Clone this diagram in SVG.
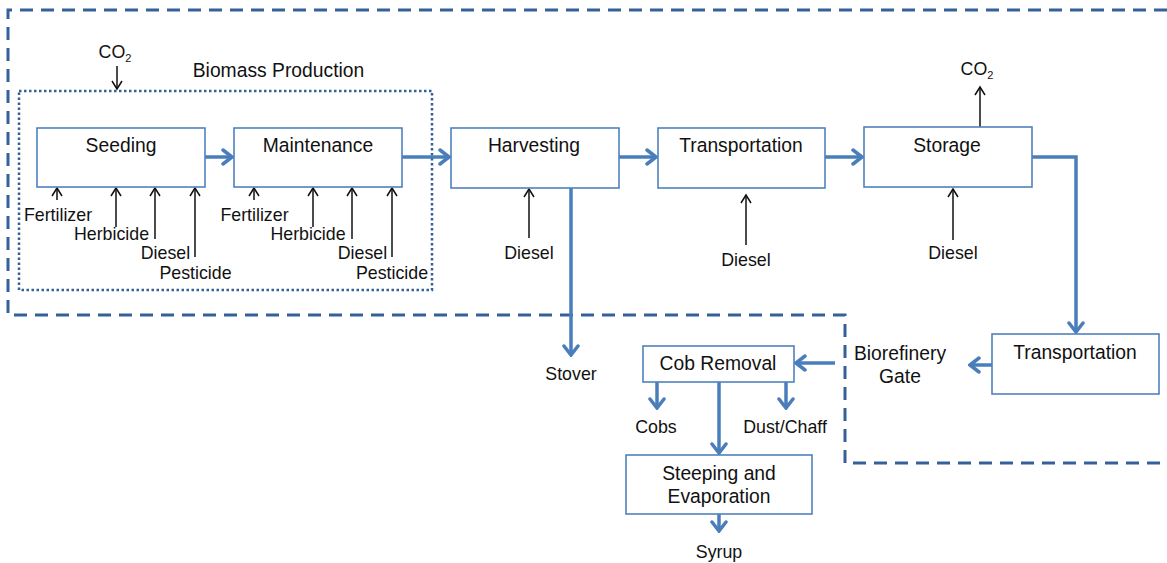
<svg xmlns="http://www.w3.org/2000/svg" width="1167" height="563" viewBox="0 0 1167 563">
<style>
.box{fill:#fff;stroke:#4f81bd;stroke-width:1.6}
.t{font-family:"Liberation Sans",Arial,sans-serif;font-size:19.3px;fill:#111;text-anchor:middle}
.l{font-family:"Liberation Sans",Arial,sans-serif;font-size:17.8px;fill:#111;text-anchor:middle}
.sub{font-size:11px}
.flow{fill:none;stroke:#4a7ebb;stroke-width:3.5;marker-end:url(#ba)}
.thin{fill:none;stroke:#111;stroke-width:1.5;marker-end:url(#ka)}
.bound{fill:none;stroke:#35609a;stroke-width:3;stroke-dasharray:13 8}
.dot{fill:none;stroke:#35609a;stroke-width:2.5;stroke-dasharray:2.5 2.5}
</style>
<defs>
<marker id="ba" markerUnits="userSpaceOnUse" viewBox="-12 -9 14 18" refX="0" refY="0" markerWidth="14" markerHeight="18" orient="auto">
<path d="M-9,-7 L0,0 L-9,7" fill="none" stroke="#4a7ebb" stroke-width="3.5" stroke-linecap="round" stroke-linejoin="miter"/>
</marker>
<marker id="ka" markerUnits="userSpaceOnUse" viewBox="-10 -7 12 14" refX="0" refY="0" markerWidth="12" markerHeight="14" orient="auto">
<path d="M-8,-5 L0,0 L-8,5" fill="none" stroke="#111" stroke-width="1.5"/>
</marker>
</defs>
<rect width="1167" height="563" fill="#fff"/>
<g id="boundaries">
<path class="bound" d="M1167,10 L8,10 L8,315 L845,315 L845,463 L1167,463"/>
<rect class="dot" x="19" y="91" width="413" height="199"/>
<text class="t" x="278.5" y="77">Biomass Production</text>
</g>
<g id="connectors">
<line class="flow" x1="205" y1="157" x2="232" y2="157"/>
<line class="flow" x1="402" y1="157" x2="449" y2="157"/>
<line class="flow" x1="619" y1="157" x2="656" y2="157"/>
<line class="flow" x1="825" y1="157" x2="862" y2="157"/>
<path class="flow" d="M1032,157 L1076,157 L1076,332"/>
<line class="flow" x1="992" y1="365" x2="970" y2="365"/>
<line class="flow" x1="835" y1="363" x2="796" y2="363"/>
<line class="flow" x1="571" y1="188" x2="571" y2="355"/>
<line class="flow" x1="657" y1="382" x2="657" y2="408"/>
<line class="flow" x1="786" y1="382" x2="786" y2="408"/>
<line class="flow" x1="719" y1="382" x2="719" y2="453"/>
<line class="flow" x1="719" y1="514" x2="719" y2="531"/>
<line class="thin" x1="117" y1="66" x2="117" y2="89"/>
<line class="thin" x1="57" y1="200" x2="57" y2="188"/>
<line class="thin" x1="116" y1="227" x2="116" y2="188"/>
<line class="thin" x1="155" y1="239" x2="155" y2="188"/>
<line class="thin" x1="195" y1="257" x2="195" y2="188"/>
<line class="thin" x1="254" y1="200" x2="254" y2="188"/>
<line class="thin" x1="313" y1="227" x2="313" y2="188"/>
<line class="thin" x1="352" y1="239" x2="352" y2="188"/>
<line class="thin" x1="392" y1="257" x2="392" y2="188"/>
<line class="thin" x1="529" y1="238" x2="529" y2="189"/>
<line class="thin" x1="746" y1="245" x2="746" y2="195"/>
<line class="thin" x1="953" y1="240" x2="953" y2="189"/>
<line class="thin" x1="980" y1="127" x2="980" y2="87"/>
</g>
<g id="seeding">
<rect class="box" x="37" y="128" width="168" height="59"/>
<text class="t" x="121" y="152">Seeding</text>
</g>
<g id="maintenance">
<rect class="box" x="234" y="128" width="168" height="59"/>
<text class="t" x="318" y="152">Maintenance</text>
</g>
<g id="harvesting">
<rect class="box" x="451" y="128" width="168" height="60"/>
<text class="t" x="534" y="152">Harvesting</text>
</g>
<g id="transportation1">
<rect class="box" x="658" y="128" width="167" height="60"/>
<text class="t" x="741" y="152">Transportation</text>
</g>
<g id="storage">
<rect class="box" x="864" y="127" width="168" height="60"/>
<text class="t" x="947" y="152">Storage</text>
</g>
<g id="transportation2">
<rect class="box" x="992" y="334" width="167" height="60"/>
<text class="t" x="1075" y="359">Transportation</text>
</g>
<g id="cob-removal">
<rect class="box" x="643" y="346" width="151" height="36"/>
<text class="t" x="718" y="370">Cob Removal</text>
</g>
<g id="steeping">
<rect class="box" x="626" y="455" width="186" height="59"/>
<text class="t" x="719" y="480">Steeping and</text>
<text class="t" x="719" y="503">Evaporation</text>
</g>
<g id="labels">
<text class="l" x="115" y="58">CO<tspan class="sub" dy="4">2</tspan></text>
<text class="l" x="977" y="75">CO<tspan class="sub" dy="4">2</tspan></text>
<text class="l" x="58" y="221">Fertilizer</text>
<text class="l" x="111.5" y="240">Herbicide</text>
<text class="l" x="165.5" y="259">Diesel</text>
<text class="l" x="195.5" y="279">Pesticide</text>
<text class="l" x="254.5" y="221">Fertilizer</text>
<text class="l" x="308" y="240">Herbicide</text>
<text class="l" x="362.5" y="259">Diesel</text>
<text class="l" x="392" y="279">Pesticide</text>
<text class="l" x="529" y="259">Diesel</text>
<text class="l" x="746" y="266">Diesel</text>
<text class="l" x="953" y="259">Diesel</text>
<text class="t" x="900" y="360">Biorefinery</text>
<text class="t" x="900" y="383">Gate</text>
<text class="l" x="571" y="380">Stover</text>
<text class="l" x="656" y="433">Cobs</text>
<text class="l" x="785" y="433">Dust/Chaff</text>
<text class="l" x="719" y="558">Syrup</text>
</g>
</svg>
